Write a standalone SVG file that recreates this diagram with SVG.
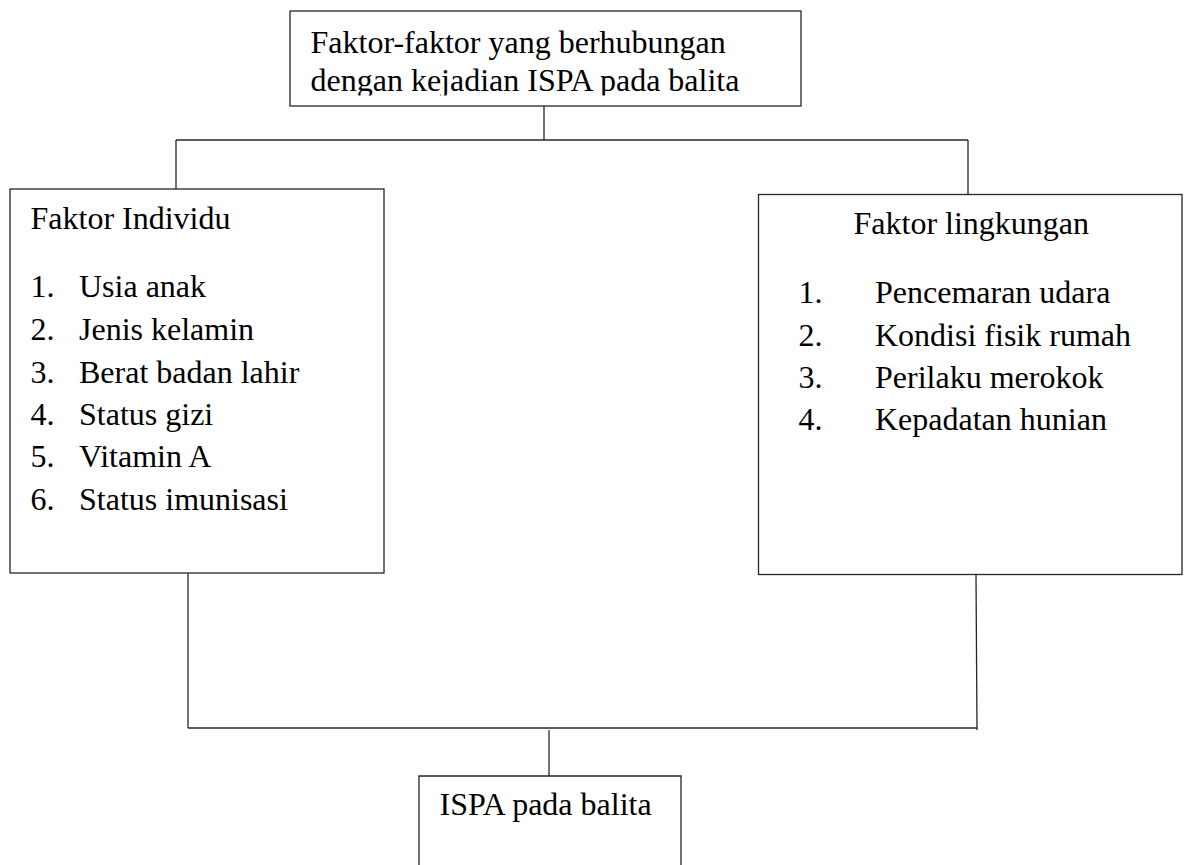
<svg xmlns="http://www.w3.org/2000/svg" width="1187" height="865" viewBox="0 0 1187 865">
<style>
.box{fill:#fff;stroke:#262626;stroke-width:1.3}
.ln{stroke:#262626;stroke-width:1.3;fill:none}
.t{font-family:'Liberation Serif','DejaVu Serif',serif;font-size:32px;fill:#000}
</style>
<defs>
<clipPath id="topclip"><rect x="290" y="11" width="511" height="84.5"/></clipPath>
</defs>
<rect width="1187" height="865" fill="#fff"/>
<g id="connectors">
<line class="ln" x1="544" y1="106" x2="544" y2="140"/>
<line class="ln" x1="176" y1="140" x2="968" y2="140"/>
<line class="ln" x1="176" y1="140" x2="176" y2="189"/>
<line class="ln" x1="968" y1="140" x2="968" y2="194"/>
<line class="ln" x1="188" y1="570" x2="188" y2="728"/>
<line class="ln" x1="976" y1="574" x2="977" y2="730"/>
<line class="ln" x1="188" y1="728" x2="977" y2="728"/>
<line class="ln" x1="549" y1="730" x2="549" y2="776"/>
</g>
<g class="t" font-family="Liberation Serif, DejaVu Serif, serif">
<g id="node-top">
<rect class="box" x="290" y="11" width="511" height="95"/>
<g clip-path="url(#topclip)">
<text x="310.5" y="53">Faktor-faktor yang berhubungan</text>
<text x="310.5" y="91">dengan kejadian ISPA pada balita</text>
</g>
</g>
<g id="node-individu">
<rect class="box" x="10" y="189" width="374" height="384"/>
<text x="30.5" y="229">Faktor Individu</text>
<text x="30.5" y="297">1.</text><text x="79" y="297">Usia anak</text>
<text x="30.5" y="340">2.</text><text x="79" y="340">Jenis kelamin</text>
<text x="30.5" y="382.5">3.</text><text x="79" y="382.5">Berat badan lahir</text>
<text x="30.5" y="424.5">4.</text><text x="79" y="424.5">Status gizi</text>
<text x="30.5" y="467">5.</text><text x="79" y="467">Vitamin A</text>
<text x="30.5" y="510">6.</text><text x="79" y="510">Status imunisasi</text>
</g>
<g id="node-lingkungan">
<rect class="box" x="758.5" y="194.5" width="423.5" height="380"/>
<text x="853.5" y="234">Faktor lingkungan</text>
<text x="798.5" y="303">1.</text><text x="875" y="303">Pencemaran udara</text>
<text x="798.5" y="345.5">2.</text><text x="875" y="345.5">Kondisi fisik rumah</text>
<text x="798.5" y="388">3.</text><text x="875" y="388">Perilaku merokok</text>
<text x="798.5" y="430">4.</text><text x="875" y="430">Kepadatan hunian</text>
</g>
<g id="node-ispa">
<path class="box" d="M419,866 V776 H681 V866"/>
<text x="439.5" y="815">ISPA pada balita</text>
</g>
</g>
</svg>
